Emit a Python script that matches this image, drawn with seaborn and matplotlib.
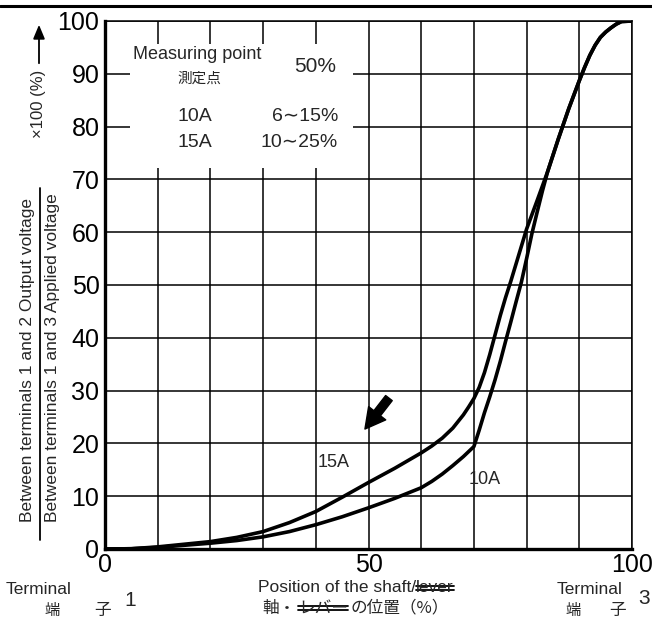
import pandas as pd
import matplotlib
matplotlib.use("Agg")
import matplotlib.pyplot as plt
from matplotlib.patches import Rectangle, FancyArrowPatch
from matplotlib.lines import Line2D
import seaborn as sns

# Curve data (shaft position % -> output/applied %)
pos_15a = [0, 5, 10, 15, 20, 25, 30, 35, 40, 45, 50, 55, 60, 62, 64, 66, 68, 69,
           70, 71, 72, 73, 74, 75, 76, 77, 78, 79, 80, 82, 84, 86, 88, 90, 91,
           92, 93, 94, 95, 96, 97, 98, 100]
out_15a = [0, 0.05, 0.4, 0.9, 1.4, 2.2, 3.3, 5.0, 7.1, 9.8, 12.6, 15.3, 18.2, 19.5,
           21.0, 22.9, 25.4, 26.9, 28.5, 30.6, 33.4, 36.8, 40.5, 44.2, 47.6, 50.7,
           54.0, 57.3, 60.6, 66.0, 71.5, 77.6, 83.4, 88.7, 91.2, 93.5, 95.4, 96.9,
           97.9, 98.7, 99.4, 99.9, 100]

pos_10a = [0, 5, 10, 15, 20, 25, 30, 35, 40, 45, 50, 55, 60, 62, 64, 66, 68, 70,
           71, 72, 73, 74, 75, 76, 77, 78, 79, 80, 81, 82, 83, 84, 86, 88, 90, 91,
           92, 93, 94, 95, 96, 97, 98, 100]
out_10a = [0, 0.05, 0.3, 0.7, 1.1, 1.6, 2.3, 3.3, 4.6, 6.1, 7.8, 9.6, 11.6, 12.8,
           14.2, 15.8, 17.5, 19.4, 22.5, 25.8, 28.8, 32.0, 35.5, 39.3, 43.0, 46.8,
           50.5, 55.0, 59.7, 63.8, 67.8, 71.5, 77.6, 83.4, 88.7, 91.2, 93.5, 95.4,
           96.9, 97.9, 98.7, 99.4, 99.9, 100]

x_ticks = list(range(0, 101, 10))
x_labels = ["0", "", "", "", "", "50", "", "", "", "", "100"]
y_ticks = list(range(0, 101, 10))

taper_names = ["15A", "10A"]
spec_ranges = ["10∼25%", "6∼15%"]

data = pd.concat([
    pd.DataFrame({"pos": pos_15a, "out": out_15a, "taper": "15A"}),
    pd.DataFrame({"pos": pos_10a, "out": out_10a, "taper": "10A"}),
])

sns.set_style("white")
LAT = ["Liberation Sans", "DejaVu Sans"]
JP = ["Noto Sans CJK JP", "DejaVu Sans"]
plt.rcParams["font.family"] = LAT

W, H = 652, 630
fig = plt.figure(figsize=(W / 100, H / 100), dpi=100)
ax = fig.add_axes([105 / W, 1 - 549 / H, 527 / W, 528 / H])


def fx(px):
    return px / W


def fy(py):
    return 1 - py / H


sns.lineplot(data=data, x="pos", y="out", hue="taper", units="taper",
             estimator=None, sort=False, palette={"15A": "black", "10A": "black"},
             linewidth=2.6, legend=False, ax=ax, zorder=3)
for ln in ax.lines:
    ln.set_solid_joinstyle("round")
    ln.set_solid_capstyle("round")

ax.set_xlim(0, 100)
ax.set_ylim(0, 100)
ax.set_xticks(x_ticks)
ax.set_xticklabels(x_labels)
ax.set_yticks(y_ticks)
ax.tick_params(length=0, labelsize=18, colors="black")
ax.tick_params(axis="y", pad=4)
ax.tick_params(axis="x", pad=3)
ax.set_xlabel("")
ax.set_ylabel("")
ax.grid(True, color="black", linewidth=1.1)
ax.set_axisbelow(True)
for side in ["left", "bottom"]:
    ax.spines[side].set_linewidth(2.4)
for side in ["top", "right"]:
    ax.spines[side].set_linewidth(1.1)
for s in ax.spines.values():
    s.set_color("black")

# white panel hiding the grid behind the spec table
ax.add_patch(Rectangle((4.8, 72.2), 42.3, 23.4, facecolor="white",
                       edgecolor="none", zorder=1))
ax.text(5.3, 93.7, "Measuring point", fontsize=13, va="center", ha="left", zorder=4)
ax.text(18.0, 89.0, "測定点", fontsize=10.5, va="center", ha="center",
        family=JP, zorder=4)
ax.text(39.8, 91.3, "50%", fontsize=15, va="center", ha="center", zorder=4)
ax.text(17.1, 82.0, taper_names[1], fontsize=14, va="center", ha="center", zorder=4)
ax.text(44.2, 82.0, spec_ranges[1], fontsize=14, va="center", ha="right",
        family=LAT, zorder=4)
ax.text(17.1, 77.0, taper_names[0], fontsize=14, va="center", ha="center", zorder=4)
ax.text(44.2, 77.0, spec_ranges[0], fontsize=14, va="center", ha="right",
        family=LAT, zorder=4)

# curve labels and arrow
ax.text(43.3, 16.3, "15A", fontsize=13, ha="center", va="center", zorder=4)
ax.text(72.1, 13.1, "10A", fontsize=13, ha="center", va="center", zorder=4)
ax.annotate("", xy=(49.0, 22.3), xytext=(54.2, 29.0),
            arrowprops=dict(arrowstyle="simple,head_width=1.3,head_length=1.2,tail_width=0.5",
                            color="black", mutation_scale=12), zorder=4)

# y axis label as a fraction
fig.text(fx(28), fy(360), "Between terminals 1 and 2 Output voltage",
         rotation=90, fontsize=12.5, ha="center", va="center")
fig.text(fx(53), fy(358), "Between terminals 1 and 3 Applied voltage",
         rotation=90, fontsize=12.5, ha="center", va="center")
fig.add_artist(Line2D([fx(40), fx(40)], [fy(540), fy(188)], color="black",
                      linewidth=1.3, transform=fig.transFigure))
fig.text(fx(38), fy(104), "×100 (%)", rotation=90, fontsize=12,
         ha="center", va="center")
fig.add_artist(FancyArrowPatch(
    (fx(39), fy(66)), (fx(39), fy(22)), transform=fig.transFigure,
    arrowstyle="-|>,head_width=0.25,head_length=0.6", mutation_scale=14,
    color="black", linewidth=1.3))

# page border at the very top of the scan
fig.add_artist(Line2D([0, 1], [fy(6), fy(6)], color="black", linewidth=2.2,
                      transform=fig.transFigure))

# bottom labels
fig.text(fx(39), fy(590), "Terminal", fontsize=12.5, ha="center", va="center")
fig.text(fx(52), fy(610), "端", fontsize=11, ha="center", va="center", family=JP)
fig.text(fx(103), fy(610), "子", fontsize=12, ha="center", va="center", family=JP)
fig.text(fx(130), fy(600), "1", fontsize=15, ha="center", va="center")

fig.text(fx(590), fy(590), "Terminal", fontsize=12.5, ha="center", va="center")
fig.text(fx(573), fy(610), "端", fontsize=11, ha="center", va="center", family=JP)
fig.text(fx(618), fy(610), "子", fontsize=12, ha="center", va="center", family=JP)
fig.text(fx(644), fy(598), "3", fontsize=15, ha="center", va="center")

t1 = fig.text(fx(258), fy(588), "Position of the shaft/", fontsize=12.5,
              ha="left", va="center")
fig.canvas.draw()
r = fig.canvas.get_renderer()
bb = t1.get_window_extent(r).transformed(fig.transFigure.inverted())
lever = fig.text(bb.x1, fy(588), "lever", fontsize=12.5, ha="left", va="center")

t2 = fig.text(fx(262), fy(608), "軸・", fontsize=12, ha="left", va="center", family=JP)
fig.canvas.draw()
bb2 = t2.get_window_extent(r).transformed(fig.transFigure.inverted())
reba = fig.text(bb2.x1 + 0.004, fy(608), "レバー", fontsize=12, ha="left",
                va="center", family=JP)
fig.canvas.draw()
bb3 = reba.get_window_extent(r).transformed(fig.transFigure.inverted())
fig.text(bb3.x1 + 0.004, fy(608), "の位置（%）", fontsize=12, ha="left",
         va="center", family=JP)

# strike-through lines over the crossed-out words
for t in [lever, reba]:
    b = t.get_window_extent(r).transformed(fig.transFigure.inverted())
    mid = fy(588) if t is lever else fy(608)
    for off in (-0.003, 0.003):
        fig.add_artist(Line2D([b.x0, b.x1], [mid + off, mid + off], color="black",
                              linewidth=1.3, transform=fig.transFigure))

fig.savefig("out.png", dpi=100)
